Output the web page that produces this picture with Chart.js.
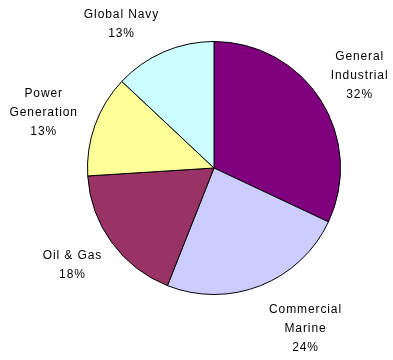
<!DOCTYPE html>
<html>
<head>
<meta charset="utf-8">
<script src="https://cdn.jsdelivr.net/npm/chart.js@4"></script>
<style>
html,body{margin:0;padding:0;background:#fff;}
#wrap{width:393px;height:360px;position:relative;}
</style>
</head>
<body>
<div id="wrap"><canvas id="c" width="393" height="360"></canvas></div>
<script>
const categories = ["General Industrial", "Commercial Marine", "Oil & Gas", "Power Generation", "Global Navy"];
const values = [32, 24, 18, 13, 13];
const labelLines = [["General", "Industrial"], ["Commercial", "Marine"], ["Oil & Gas"], ["Power", "Generation"], ["Global Navy"]];
const colors = ["#800080", "#CCCCFF", "#993366", "#FFFF99", "#CCFFFF"];
// small nudges for label placement (style only)
const labelNudges = [[0, 0], [28, 0], [-2, -4], [-8, 3], [-24, 15]];

const outsideLabels = {
  id: 'outsideLabels',
  afterDatasetsDraw(chart) {
    const ctx = chart.ctx;
    const meta = chart.getDatasetMeta(0);
    const total = values.reduce((a, b) => a + b, 0);
    ctx.save();
    ctx.font = '12px "Liberation Sans", Arial, sans-serif';
    ctx.letterSpacing = '0.9px';
    ctx.fillStyle = '#000';
    ctx.textAlign = 'center';
    ctx.textBaseline = 'middle';
    meta.data.forEach((arc, i) => {
      const p = arc.getProps(['x', 'y', 'startAngle', 'endAngle', 'outerRadius'], true);
      const mid = (p.startAngle + p.endAngle) / 2;
      const d = p.outerRadius + 46;
      const cx = p.x + Math.cos(mid) * d + labelNudges[i][0];
      const cy = p.y + Math.sin(mid) * d + labelNudges[i][1];
      const lines = labelLines[i].concat([Math.round(values[i] / total * 100) + '%']);
      const lh = 19;
      const y0 = cy - (lines.length - 1) * lh / 2;
      lines.forEach((t, k) => ctx.fillText(t, cx, y0 + k * lh));
    });
    ctx.restore();
  }
};

new Chart(document.getElementById('c'), {
  type: 'pie',
  data: {
    labels: categories,
    datasets: [{
      data: values,
      backgroundColor: colors,
      borderColor: '#000',
      borderWidth: 1
    }]
  },
  options: {
    responsive: false,
    animation: false,
    layout: { padding: { left: 87, right: 52, top: 41, bottom: 65 } },
    plugins: { legend: { display: false }, tooltip: { enabled: false } }
  },
  plugins: [outsideLabels]
});
</script>
</body>
</html>
